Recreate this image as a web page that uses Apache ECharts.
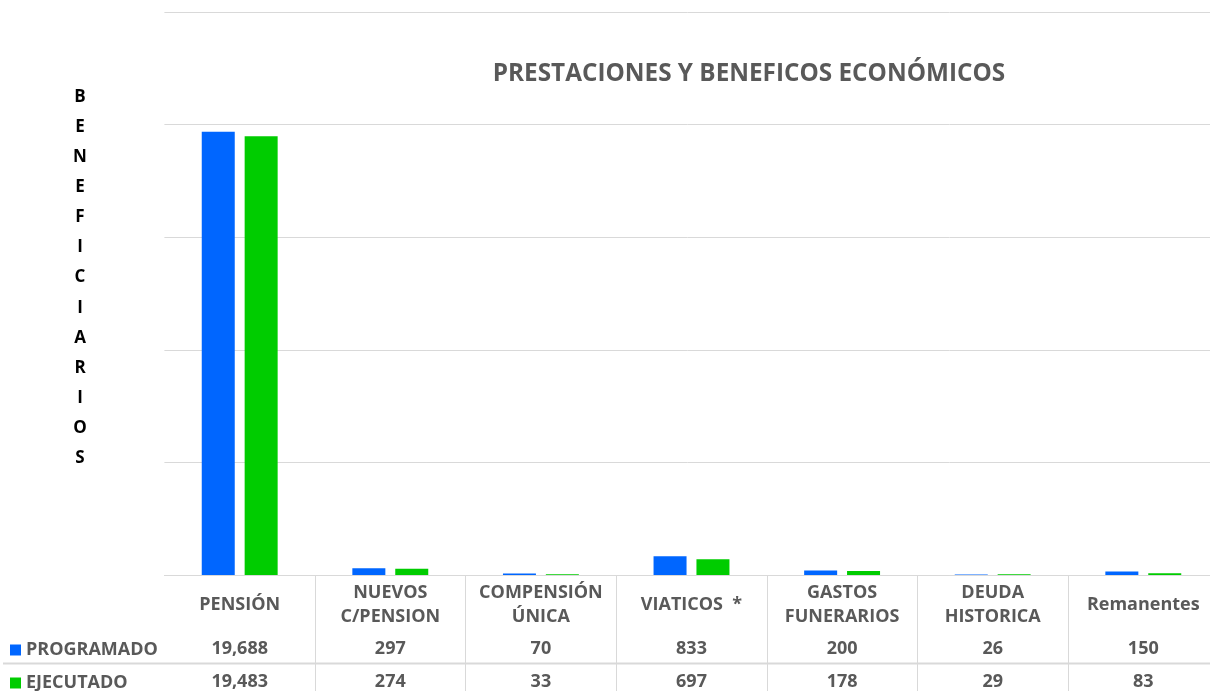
<!DOCTYPE html>
<html>
<head>
<meta charset="utf-8">
<script src="https://cdn.jsdelivr.net/npm/echarts@6/dist/echarts.min.js"></script>
<style>
	html, body { margin: 0; padding: 0; background: #fff; }
	#main { width: 1210px; height: 691px; }
</style>
</head>
<body>
<div id="main"></div>
<script>
// datos
var categorias = ['PENSIÓN', 'NUEVOS\nC/PENSION', 'COMPENSIÓN\nÚNICA', 'VIATICOS  *', 'GASTOS\nFUNERARIOS', 'DEUDA\nHISTORICA', 'Remanentes'];
var programado = [19688, 297, 70, 833, 200, 26, 150];
var ejecutado = [19483, 274, 33, 697, 178, 29, 83];
var yTicks = [0, 5000, 10000, 15000, 20000, 25000];

var gris = '#595959';
var linea = '#d9d9d9';
var fuente = 'Open Sans';

function fmt(v){
	return v.toLocaleString('en-US');
}

var myChart = echarts.init(document.getElementById('main'));

// eje de valores de la tabla
function filaTabla(valores, margen){
	return {
		type : 'category',
		position : 'bottom',
		gridIndex : 0,
		data : valores.map(fmt),
		axisLine : { show : false },
		axisTick : { show : false },
		splitLine : { show : false },
		axisLabel : {
			interval : 0,
			margin : margen,
			verticalAlign : 'middle',
			color : gris,
			fontFamily : fuente,
			fontWeight : 'bold',
			fontSize : 18
		}
	};
}

// leyenda de cada fila
function leyenda(nombre, arriba){
	return {
		left : 10,
		top : arriba,
		padding : 0,
		icon : 'rect',
		itemWidth : 11,
		itemHeight : 11,
		selectedMode : false,
		textStyle : { color : gris, fontFamily : fuente, fontWeight : 'bold', fontSize : 18 },
		data : [nombre]
	};
}

option = {
	backgroundColor : '#fff',
	animation : false,
	title : [ {
		text : 'PRESTACIONES Y BENEFICOS ECONÓMICOS',
		left : 744,
		top : 57,
		textAlign : 'center',
		textStyle : { color : gris, fontFamily : fuente, fontWeight : 'bold', fontSize : 24.3 }
	}, {
		text : 'BENEFICIARIOS'.split('').join('\n'),
		left : 75,
		top : 77,
		textAlign : 'center',
		textStyle : { color : '#000', fontFamily : fuente, fontWeight : 'bold', fontSize : 17, lineHeight : 30.1 }
	} ],
	legend : [ leyenda('PROGRAMADO', 641), leyenda('EJECUTADO', 674) ],
	grid : {
		top : 12,
		bottom : 116,
		left : 164.4,
		width : 1054.2,
		outerBoundsMode : 'none',
		containLabel : false
	},
	xAxis : [ {
		type : 'category',
		position : 'bottom',
		data : categorias,
		axisLine : { show : true, lineStyle : { color : linea } },
		axisTick : {
			show : true,
			length : 116,
			interval : function(index){ return index !== 0; },
			lineStyle : { color : linea }
		},
		axisLabel : {
			interval : 0,
			margin : 30,
			verticalAlign : 'middle',
			lineHeight : 24,
			color : gris,
			fontFamily : fuente,
			fontWeight : 'bold',
			fontSize : 18
		}
	},
	filaTabla(programado, 73.5),
	filaTabla(ejecutado, 106.5)
	],
	yAxis : [ {
		type : 'value',
		min : yTicks[0],
		max : yTicks[yTicks.length - 1],
		interval : 5000,
		axisLabel : { show : false },
		axisLine : { show : false },
		axisTick : { show : false },
		splitLine : { lineStyle : { color : linea } }
	} ],
	graphic : [ {
		type : 'line',
		shape : { x1 : 3, y1 : 663.5, x2 : 1210, y2 : 663.5 },
		style : { stroke : linea, lineWidth : 2 }
	} ],
	series : [ {
		name : 'PROGRAMADO',
		type : 'bar',
		barWidth : 33,
		barGap : '30%',
		itemStyle : { color : '#0066ff' },
		data : programado
	}, {
		name : 'EJECUTADO',
		type : 'bar',
		barWidth : 33,
		barGap : '30%',
		itemStyle : { color : '#00cc00' },
		data : ejecutado
	} ]
};
myChart.setOption(option);
</script>
</body>
</html>
